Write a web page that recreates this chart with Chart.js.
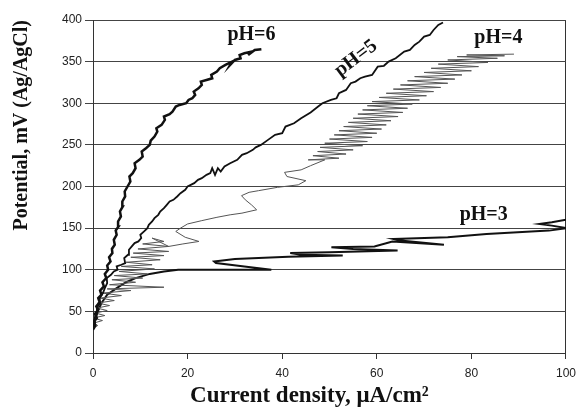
<!DOCTYPE html>
<html>
<head>
<meta charset="utf-8">
<script src="https://cdn.jsdelivr.net/npm/chart.js@4.4.0/dist/chart.umd.min.js"></script>
<style>
html, body { margin: 0; padding: 0; background: #fff; }
</style>
</head>
<body>
<canvas id="canvas" width="583" height="412"></canvas>
<script>
// axis ticks
var xTicks = [0, 20, 40, 60, 80, 100];
var yTicks = [0, 50, 100, 150, 200, 250, 300, 350, 400];
var seriesNames = ['pH=6', 'pH=5', 'pH=4', 'pH=3'];

// pH=6 : current density (uA/cm2) / potential (mV)
var ph6X = [0, 0.5, 0.2, 0.8, 0.4, 1.1, 0.7, 1.4, 1.1, 1.8, 1.5, 2.3, 2.0, 2.8, 2.5, 3.2, 3.0, 3.7, 3.4, 4.1,
  4.0, 4.6, 4.4, 5.0, 4.8, 5.4, 5.3, 5.9, 5.7, 6.3, 6.2, 6.8, 6.7, 7.3, 7.9, 7.7, 8.4, 9.0, 8.8, 9.8,
  10.5, 10.3, 11.2, 12.0, 12.2, 13.0, 13.6, 13.4, 14.5, 15.2, 15.0, 16.2, 16.8, 17.5, 18.3, 19.7, 20.2, 21.0, 21.6, 21.3,
  22.3, 23.0, 22.8, 24.0, 25.2, 25.0, 26.2, 26.8, 28.0, 29.4, 29.0, 30.0, 31.2, 31.0, 32.0, 33.5, 32.8, 34.2, 35.6];
var ph6Y = [28, 33, 38, 42, 47, 52, 56, 61, 66, 70, 75, 80, 85, 90, 95, 100, 105, 110, 115, 120,
  125, 130, 136, 142, 147, 152, 158, 164, 170, 176, 182, 188, 194, 200, 206, 212, 216, 222, 228, 232,
  236, 242, 246, 250, 255, 260, 266, 270, 274, 280, 284, 287, 290, 296, 298, 300, 304, 306, 310, 314,
  318, 322, 326, 328, 330, 334, 338, 342, 346, 350, 346, 352, 354, 358, 360, 362, 358, 364, 365];

// pH=5
var ph5X = [0, 0.4, 0.3, 0.9, 0.8, 1.5, 1.4, 2.1, 2.5, 3.0, 2.9, 3.8, 4.4, 5.2, 5.0, 6.0, 6.8, 6.6, 7.4, 7.6,
  8.2, 8.8, 9.6, 10.2, 10.0, 10.8, 11.5, 11.8, 12.5, 13.0, 13.8, 14.2, 15.0, 15.6, 16.2, 17.0, 17.8, 18.5, 19.5, 20.0,
  21.4, 22.2, 23.0, 24.0, 24.8, 25.2, 25.8, 26.4, 27.0, 27.8, 29.0, 30.5, 31.5, 32.5, 33.8, 34.4, 35.5, 37.0, 38.5, 40.0,
  40.7, 42.5, 44.0, 46.0, 47.6, 48.5, 50.3, 51.5, 52.0, 53.5, 54.5, 55.5, 56.5, 57.5, 59.0, 60.2, 61.5, 62.5, 64.0, 65.8,
  67.0, 68.0, 69.0, 70.0, 71.2, 72.0, 73.0, 74.0];
var ph5Y = [30, 36, 42, 48, 54, 60, 66, 72, 78, 84, 90, 94, 98, 100, 104, 106, 108, 114, 118, 124,
  128, 132, 134, 138, 142, 146, 150, 154, 158, 162, 166, 170, 174, 178, 182, 184, 188, 192, 196, 200,
  204, 208, 210, 214, 216, 222, 214, 222, 218, 224, 228, 232, 238, 240, 244, 247, 250, 256, 262, 264,
  272, 276, 282, 289, 296, 300, 304, 306, 312, 316, 324, 326, 330, 332, 334, 344, 345, 350, 354, 362,
  364, 370, 374, 380, 382, 388, 394, 397];

// pH=4
var ph4X = [0.0, 1.0, 0.2, 2.0, 0.0, 2.5, 0.5, 3.0, 0.8, 3.5, 1.0, 4.5, 1.5, 6.0, 2.0, 8.0, 3.0, 15.0, 3.5, 9.0,
  4.0, 10.5, 4.5, 11.5, 5.5, 13.0, 6.0, 12.5, 7.0, 14.2, 8.0, 15.0, 8.5, 16.0, 9.5, 16.0, 10.5, 15.0, 12.5, 16.0,
  19.0, 22.4, 19.5, 17.5, 18.5, 20.0, 23.0, 26.2, 29.0, 31.5, 34.6, 33.5, 32.2, 31.4, 33.0, 35.0, 39.0, 43.4, 45.0, 41.0,
  40.5, 44.0, 46.0, 49.0,
  45.5, 52.0, 46.5, 53.5, 47.5, 55.0, 48.0, 57.0, 49.0, 58.0, 50.0, 59.0, 51.0, 60.0, 52.0, 61.0, 53.0, 62.0, 54.0, 63.0,
  55.0, 64.5, 56.0, 65.5, 57.0, 66.5, 58.0, 67.5, 59.0, 69.0, 60.5, 70.5, 62.0, 72.0, 63.5, 73.5, 65.0, 75.0, 66.5, 76.5,
  68.0, 78.0, 70.0, 80.0, 71.5, 81.5, 73.0, 83.5, 75.0, 85.5, 77.0, 87.0, 79.0, 89.0];
var ph4Y = [30, 33, 36, 39, 42, 45, 48, 51, 54, 57, 60, 63, 66, 69, 72, 75, 77, 79, 82, 85,
  88, 90, 93, 95, 98, 101, 104, 106, 109, 112, 115, 117, 120, 122, 125, 128, 131, 134, 138, 128,
  131, 134, 139, 146, 150, 155, 159, 163, 166, 168, 172, 178, 184, 189, 193, 195, 199, 202, 207, 212,
  217, 220, 225, 232,
  232, 234, 237, 239, 242, 244, 247, 249, 252, 254, 257, 259, 262, 264, 267, 269, 272, 274, 277, 279,
  282, 284, 287, 289, 292, 294, 297, 299, 302, 304, 307, 309, 312, 314, 317, 319, 322, 324, 327, 329,
  332, 334, 337, 339, 342, 344, 347, 349, 352, 354, 356, 357, 358, 359];

// pH=3
var ph3X = [0, 0.5, 1.0, 1.8, 3.0, 5.0, 7.0, 9.0, 12.0, 15.0, 18.0, 25.0, 37.7, 32.0, 26.0, 25.6, 30.0, 41.3, 52.8, 44.0,
  41.7, 50.0, 64.4, 55.0, 50.4, 59.5, 63.3, 74.2, 65.0, 63.5, 75.0, 83.2, 96.4, 100, 97.0, 94.4, 97.0, 100];
var ph3Y = [30, 40, 50, 60, 70, 78, 85, 90, 95, 98, 100, 100, 100, 104, 108, 110, 113, 115.5, 117, 118,
  120, 121, 123, 125, 127, 128, 134, 130, 135, 137, 139, 143, 147, 150, 153, 155, 157, 160];

function pts(xs, ys) {
  return xs.map(function (x, i) { return { x: x, y: ys[i] }; });
}

var lineColors = ['#111', '#111', '#555', '#111'];
var lineWidths = [2.5, 1.8, 1, 2];
var allX = [ph6X, ph5X, ph4X, ph3X];
var allY = [ph6Y, ph5Y, ph4Y, ph3Y];

var dataSets = [];
for (var i = 0; i < seriesNames.length; i++) {
  dataSets.push({
    label: seriesNames[i],
    data: pts(allX[i], allY[i]),
    showLine: true,
    borderColor: lineColors[i],
    backgroundColor: 'transparent',
    borderWidth: lineWidths[i],
    pointRadius: 0,
    tension: 0
  });
}

// pH labels written into the plot
var phLabels = {
  id: 'phLabels',
  afterDatasetsDraw: function (chart) {
    var ctx = chart.ctx;
    var sx = chart.scales.x, sy = chart.scales.y;
    var spots = [
      { t: 'pH=6', x: 33.5, y: 382, r: 0 },
      { t: 'pH=5', x: 55.6, y: 354, r: -37 },
      { t: 'pH=4', x: 85.7, y: 378, r: 0 },
      { t: 'pH=3', x: 82.6, y: 166, r: 0 }
    ];
    ctx.save();
    ctx.fillStyle = '#111';
    ctx.font = 'bold 20px "Liberation Serif", "Times New Roman", serif';
    ctx.textAlign = 'center';
    ctx.textBaseline = 'middle';
    spots.forEach(function (s) {
      ctx.save();
      ctx.translate(sx.getPixelForValue(s.x), sy.getPixelForValue(s.y));
      ctx.rotate(s.r * Math.PI / 180);
      ctx.fillText(s.t, 0, 0);
      ctx.restore();
    });
    ctx.restore();
  }
};

var ctx = document.getElementById('canvas').getContext('2d');
var myChart = new Chart(ctx, {
  type: 'scatter',
  data: { datasets: dataSets },
  options: {
    responsive: false,
    animation: false,
    layout: { padding: { top: 20, right: 13, left: 0, bottom: 0 } },
    plugins: { legend: { display: false }, tooltip: { enabled: false } },
    scales: {
      x: {
        type: 'linear',
        min: 0, max: 100,
        afterBuildTicks: function (s) { s.ticks = xTicks.map(function (v) { return { value: v }; }); },
        afterFit: function (s) { s.height = 59; },
        ticks: { color: '#222', padding: 7, font: { family: 'Liberation Sans, Arial, sans-serif', size: 12 } },
        grid: {
          drawOnChartArea: true,
          color: function (c) { return c.tick && c.tick.value === 100 ? '#333' : 'rgba(0,0,0,0)'; },
          tickColor: '#333',
          tickLength: 6
        },
        border: { display: true, color: '#333', width: 1 },
        title: {
          display: true,
          text: 'Current density, \u03bcA/cm\u00b2       ',
          color: '#111',
          padding: { top: 0, bottom: 2 },
          font: { family: 'Liberation Serif, Times New Roman, serif', size: 23, weight: 'bold' }
        }
      },
      y: {
        min: 0, max: 400,
        afterBuildTicks: function (s) { s.ticks = yTicks.map(function (v) { return { value: v }; }); },
        afterFit: function (s) { s.width = 93; },
        ticks: { color: '#222', padding: 3, font: { family: 'Liberation Sans, Arial, sans-serif', size: 12 } },
        grid: { color: '#444', tickColor: '#444', tickLength: 8, lineWidth: 1 },
        border: { display: true, color: '#333', width: 1 },
        title: {
          display: true,
          text: 'Potential, mV (Ag/AgCl)',
          align: 'end',
          color: '#111',
          padding: { top: 10, bottom: 0 },
          font: { family: 'Liberation Serif, Times New Roman, serif', size: 20, weight: 'bold' }
        }
      }
    }
  },
  plugins: [phLabels]
});
</script>
</body>
</html>
